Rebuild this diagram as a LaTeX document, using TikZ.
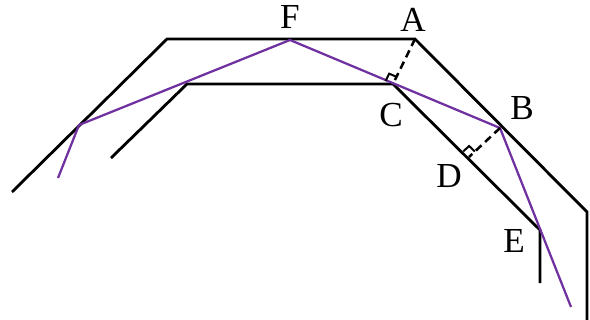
\documentclass[tikz,border=0pt]{standalone}
\usepackage{fontspec}
\setmainfont{Liberation Serif}
\usetikzlibrary{calc}
\definecolor{raypurple}{RGB}{112,48,160}
\tikzset{
  wall/.style={line width=2pt, line join=miter},
  ray/.style={raypurple, line width=1.6pt},
  normal/.style={dash pattern=on 5.5pt off 3.5pt, line width=1.8pt},
  rightangle/.style={line width=1.4pt}
}
\begin{document}
\begin{tikzpicture}[x=0.025cm, y=-0.025cm, font=\fontsize{25}{30}\selectfont]
\useasboundingbox (0,0) rectangle (590,320);
% points
\coordinate (A) at (415,39);
\coordinate (B) at (500,128);
\coordinate (C) at (393,84);
\coordinate (D) at (469,157);
\coordinate (E) at (540,230);
\coordinate (F) at (290,40);
% outer and inner walls
\draw[wall] (12,192) -- (167,39) -- (A) -- (587,212) -- (587,320);
\draw[wall] (111,158) -- (187,84) -- (C) -- (E) -- (540,283);
% ray
\draw[ray] (58,178) -- (79,125) -- (F) -- (B) -- (571,307);
% normals
\draw[normal] (A) -- (C);
\draw[normal] (B) -- (D);
% right angle marks
\coordinate (c1) at ($(C)!0.2cm!(A)$);
\coordinate (c2) at ($(C)!0.2cm!(F)$);
\draw[rightangle] (c1) -- ($(c1)+(c2)-(C)$) -- (c2);
\coordinate (d1) at ($(D)!0.2cm!(B)$);
\coordinate (d2) at ($(D)!0.2cm!(C)$);
\draw[rightangle] (d1) -- ($(d1)+(d2)-(D)$) -- (d2);
% labels
\node (lblF) at (290,17) {F};
\node (lblA) at (413,20) {A};
\node (lblC) at (391,115) {C};
\node (lblB) at (522,108) {B};
\node (lblD) at (449,176) {D};
\node (lblE) at (514,241) {E};
\end{tikzpicture}
\end{document}
